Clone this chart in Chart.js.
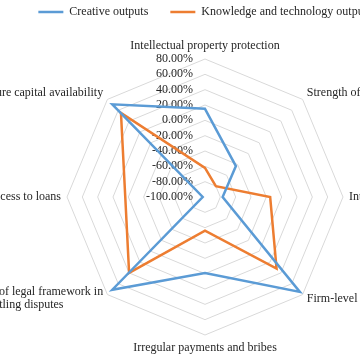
<!DOCTYPE html>
<html>
<head>
<meta charset="utf-8">
<script src="https://cdn.jsdelivr.net/npm/chart.js@4"></script>
<style>
  html, body { margin: 0; padding: 0; width: 360px; height: 360px; overflow: hidden; background: #fff; }
  canvas { display: block; }
</style>
</head>
<body>
<canvas id="radarChart" width="410" height="360"></canvas>
<script>
// 축 이름 (위에서 시계방향)
const categories = [
  'Intellectual property protection',
  'Strength of investor protection',
  'Intensity of local competition',
  'Firm-level technology absorption',
  'Irregular payments and bribes',
  ['Efficiency of legal framework in', 'settling disputes'],
  'Ease of access to loans',
  'Venture capital availability'
];

// 시리즈 값 (%)
const creativeOutputs = [15, -43, -77, 75, -1, 71, -97, 71];
const knowledgeOutputs = [-62, -80, -15, 32, -56, 40, 4, 55];

// 눈금 범위
const tickMin = -100;
const tickMax = 80;
const tickStep = 20;

const FONT = '12px "Liberation Serif", serif';
const TEXT_COLOR = '#262626';

// 엑셀처럼 눈금/축 라벨을 직접 그리는 플러그인
const excelLabels = {
  id: 'excelLabels',
  beforeDatasetsDraw(chart) {
    const scale = chart.scales.r;
    const ctx = chart.ctx;
    ctx.save();
    ctx.font = FONT;
    ctx.fillStyle = TEXT_COLOR;
    ctx.textAlign = 'right';
    ctx.textBaseline = 'middle';
    scale.ticks.forEach(t => {
      const y = scale.yCenter - scale.getDistanceFromCenterForValue(t.value);
      ctx.fillText(t.value.toFixed(2) + '%', scale.xCenter - 12, y);
    });
    ctx.restore();
  },
  afterDraw(chart) {
    const scale = chart.scales.r;
    const ctx = chart.ctx;
    ctx.save();
    ctx.font = FONT;
    ctx.fillStyle = TEXT_COLOR;
    ctx.textBaseline = 'middle';
    const lineH = 13;
    categories.forEach((lab, i) => {
      const lines = Array.isArray(lab) ? lab : [lab];
      const p = scale.getPointPosition(i, scale.drawingArea + 6);
      const dx = p.x - scale.xCenter;
      const dy = p.y - scale.yCenter;
      const w = Math.max(...lines.map(l => ctx.measureText(l).width));
      const h = lines.length * lineH;
      // 블록 중심 계산
      let cx = p.x;
      if (dx > 1) cx = p.x + w / 2;
      else if (dx < -1) cx = p.x - w / 2;
      let cy = p.y;
      if (Math.abs(dx) < 1 && dy < 0) cy = p.y - h / 2 - 1;
      else if (Math.abs(dx) < 1 && dy > 0) cy = p.y + h / 2;
      else if (dy < -1) cy = p.y - 2;
      ctx.textAlign = 'center';
      lines.forEach((l, k) => {
        ctx.fillText(l, cx, cy - h / 2 + lineH / 2 + k * lineH);
      });
    });
    ctx.restore();
  }
};

const ctx = document.getElementById('radarChart').getContext('2d');

const radarChart = new Chart(ctx, {
  type: 'radar',
  data: {
    labels: categories,
    datasets: [
      {
        label: 'Creative outputs',
        data: creativeOutputs,
        borderColor: '#5B9BD5',
        backgroundColor: '#5B9BD5',
        borderWidth: 2.5,
        fill: false,
        pointRadius: 0,
        tension: 0,
        clip: false
      },
      {
        label: 'Knowledge and technology outputs',
        data: knowledgeOutputs,
        borderColor: '#ED7D31',
        backgroundColor: '#ED7D31',
        borderWidth: 2.5,
        fill: false,
        pointRadius: 0,
        tension: 0,
        clip: false
      }
    ]
  },
  options: {
    responsive: false,
    animation: false,
    layout: { padding: { top: -16 } },
    plugins: {
      legend: {
        position: 'top',
        labels: {
          usePointStyle: true,
          pointStyle: 'line',
          pointStyleWidth: 25,
          padding: 22,
          color: TEXT_COLOR,
          font: { family: '"Liberation Serif", serif', size: 12 }
        }
      },
      tooltip: { enabled: false }
    },
    scales: {
      r: {
        min: tickMin,
        max: tickMax,
        ticks: { stepSize: tickStep, display: false },
        grid: { color: '#d9d9d9', lineWidth: 1 },
        angleLines: { display: false },
        pointLabels: { display: false },
        // 엑셀 원본과 같은 중심/반지름
        afterFit(scale) {
          scale.xCenter = 205;
          scale.yCenter = 197;
          scale.drawingArea = 138;
        }
      }
    }
  },
  plugins: [excelLabels]
});
</script>
</body>
</html>
